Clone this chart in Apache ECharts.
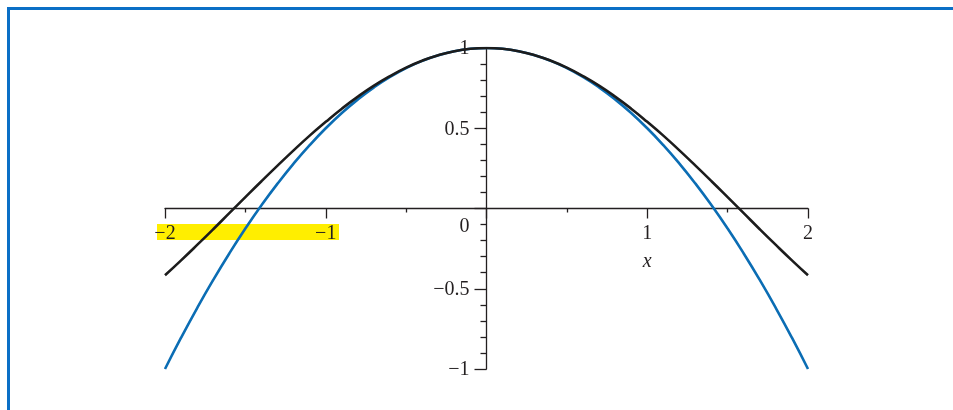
<!DOCTYPE html>
<html>
<head>
<meta charset="utf-8">
<script src="https://cdn.jsdelivr.net/npm/echarts@6/dist/echarts.min.js"></script>
<style>
html,body{margin:0;padding:0;background:#fff;}
#chart{width:953px;height:410px;}
</style>
</head>
<body>
<div id="chart"></div>
<script>
// x sample positions
var xValues = [-2.0,-1.9,-1.8,-1.7,-1.6,-1.5,-1.4,-1.3,-1.2,-1.1,-1.0,-0.9,-0.8,-0.7,-0.6,-0.5,-0.4,-0.3,-0.2,-0.1,0.0,
               0.1,0.2,0.3,0.4,0.5,0.6,0.7,0.8,0.9,1.0,1.1,1.2,1.3,1.4,1.5,1.6,1.7,1.8,1.9,2.0];
// black curve values
var blackValues = [-0.416,-0.323,-0.227,-0.129,-0.029,0.071,0.170,0.267,0.362,0.454,0.540,0.622,0.697,0.765,0.825,0.878,0.921,0.955,0.980,0.995,1.000,
                   0.995,0.980,0.955,0.921,0.878,0.825,0.765,0.697,0.622,0.540,0.454,0.362,0.267,0.170,0.071,-0.029,-0.129,-0.227,-0.323,-0.416];
// blue curve values
var blueValues = [-1.000,-0.805,-0.620,-0.445,-0.280,-0.125,0.020,0.155,0.280,0.395,0.500,0.595,0.680,0.755,0.820,0.875,0.920,0.955,0.980,0.995,1.000,
                  0.995,0.980,0.955,0.920,0.875,0.820,0.755,0.680,0.595,0.500,0.395,0.280,0.155,0.020,-0.125,-0.280,-0.445,-0.620,-0.805,-1.000];
var xTickValues = [-2, -1, 1, 2];
var xTickLabels = ['\u22122', '\u22121', '1', '2'];
var yTickValues = [1, 0.5, -0.5, -1];
var yTickLabels = ['1', '0.5', '\u22120.5', '\u22121'];
var xAxisName = 'x';
var originLabel = '0';

function pairs(xs, ys){ return xs.map(function(x,i){ return [x, ys[i]]; }); }

var FONT = '"Liberation Serif", "DejaVu Serif", serif';
var INK = '#231f20';

var chart = echarts.init(document.getElementById('chart'), null, {renderer:'canvas'});
var option = {
  animation: false,
  backgroundColor: '#ffffff',
  grid: {left:165, right:145, top:48, bottom:41, containLabel:false},
  xAxis: {
    type:'value', min:-2, max:2, interval:1,
    axisLine:{show:true, onZero:true, lineStyle:{color:INK, width:1.3}},
    axisTick:{show:true, length:10, lineStyle:{color:INK, width:1.3}},
    minorTick:{show:true, splitNumber:2, length:4, lineStyle:{color:INK, width:1.3}},
    splitLine:{show:false}, minorSplitLine:{show:false},
    axisLabel:{show:false}
  },
  yAxis: {
    type:'value', min:-1, max:1, interval:0.5,
    axisLine:{show:true, onZero:true, lineStyle:{color:INK, width:1.3}},
    axisTick:{show:true, length:12, lineStyle:{color:INK, width:1.3}},
    minorTick:{show:true, splitNumber:5, length:6, lineStyle:{color:INK, width:1.3}},
    splitLine:{show:false}, minorSplitLine:{show:false},
    axisLabel:{show:false}
  },
  series: [
    {type:'line', data:pairs(xValues, blueValues), smooth:true, showSymbol:false, z:3,
     lineStyle:{color:'#0b6db4', width:2.6}},
    {type:'line', data:pairs(xValues, blackValues), smooth:true, showSymbol:false, z:4,
     lineStyle:{color:'#1c1c1c', width:2.6}}
  ]
};
chart.setOption(option);

var graphics = [];
graphics.push({type:'rect', z:-10, shape:{x:157, y:224, width:182, height:16}, style:{fill:'#ffee00'}, silent:true});
xTickValues.forEach(function(v, i){
  var p = chart.convertToPixel({gridIndex:0}, [v, 0]);
  graphics.push({type:'text', z:10, x:p[0], y:p[1] + 25, silent:true,
    style:{text:xTickLabels[i], font:'20px ' + FONT, fill:INK, align:'center', verticalAlign:'middle'}});
});
yTickValues.forEach(function(v, i){
  var p = chart.convertToPixel({gridIndex:0}, [0, v]);
  graphics.push({type:'text', z:10, x:p[0] - 17, y:p[1] + 1, silent:true,
    style:{text:yTickLabels[i], font:'20px ' + FONT, fill:INK, align:'right', verticalAlign:'middle'}});
});
var o = chart.convertToPixel({gridIndex:0}, [0, -0.1]);
graphics.push({type:'text', z:10, x:o[0] - 17, y:o[1] + 2, silent:true,
  style:{text:originLabel, font:'20px ' + FONT, fill:INK, align:'right', verticalAlign:'middle'}});
var xl = chart.convertToPixel({gridIndex:0}, [1, -0.33]);
graphics.push({type:'text', z:10, x:xl[0], y:xl[1], silent:true,
  style:{text:xAxisName, font:'italic 20px ' + FONT, fill:INK, align:'center', verticalAlign:'middle'}});
graphics.push({type:'rect', z:20, shape:{x:8.5, y:8.5, width:960, height:420}, style:{fill:'none', stroke:'#0b6fc6', lineWidth:3}, silent:true});
chart.setOption({graphic: graphics});
</script>
</body>
</html>
